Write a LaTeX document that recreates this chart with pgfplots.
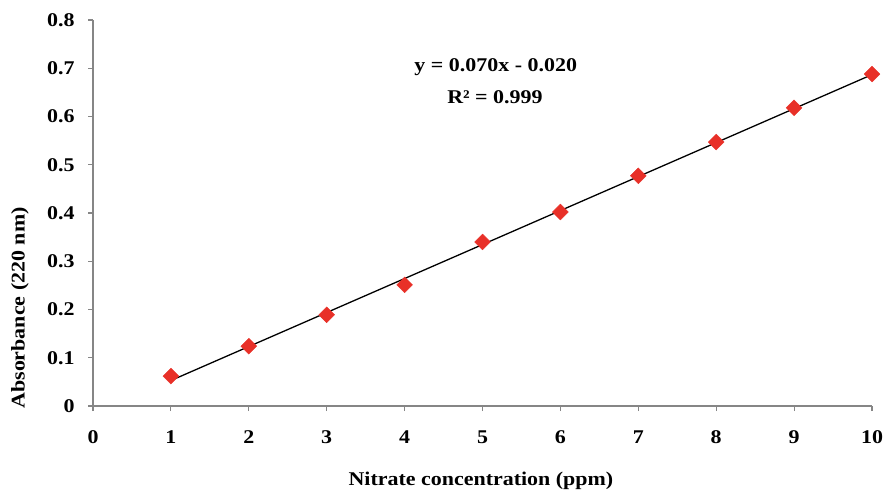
\documentclass[border=0pt]{standalone}
\usepackage{pgfplots}
\pgfplotsset{compat=1.18}
\usepackage{fontspec}
\setmainfont{Liberation Serif}[FakeStretch=1.13]
\definecolor{mkred}{RGB}{232,48,40}
\definecolor{axgray}{RGB}{134,134,134}
\begin{document}
\begin{tikzpicture}[x=1bp,y=1bp]
\begin{axis}[
  at={(0,0)}, anchor=south west,
  scale only axis,
  width=779bp, height=386bp,
  xmin=0, xmax=10, ymin=0, ymax=0.8,
  xtick={0,1,...,10},
  ytick={0,0.1,...,0.8},
  yticklabel style={/pgf/number format/fixed,/pgf/number format/precision=1},
  axis x line*=bottom, axis y line*=left,
  axis line style={axgray, line width=1.2bp, -},
  tick style={axgray, line width=1.2bp},
  tick align=outside,
  major tick length=5bp,
  /pgf/number format/assume math mode=true,
  ticklabel style={font=\fontsize{19.5}{21}\selectfont\bfseries},
  xticklabel style={yshift=-16bp},
  yticklabel style={xshift=-10bp},
  xlabel={Nitrate concentration (ppm)},
  ylabel={Absorbance (220 nm)},
  label style={font=\fontsize{19.5}{21}\selectfont\bfseries},
  xlabel style={at={(rel axis cs:0.498,0)}, anchor=center, yshift=-75bp},
  ylabel style={at={(axis description cs:-0.0937,0.254)}, anchor=center},
  clip=false,
]
\addplot[black, line width=1.3bp] coordinates {(1,0.0528) (10,0.6868)};
\addplot[only marks, mark=square*, mark size=5.6bp, mark options={rotate=45, fill=mkred, draw=mkred}] coordinates {
(1,0.062) (2,0.124) (3,0.189) (4,0.251) (5,0.340)
(6,0.402) (7,0.477) (8,0.547) (9,0.618) (10,0.688)};
\node[font=\fontsize{19.5}{21}\selectfont\bfseries] at (axis cs:5.17,0.7026) {y = 0.070x - 0.020};
\node[font=\fontsize{19.5}{21}\selectfont\bfseries] at (axis cs:5.16,0.640) {R² = 0.999};
\end{axis}
\pgfresetboundingbox
\path[use as bounding box] (-93bp,-84bp) rectangle (791bp,406bp);
\end{tikzpicture}
\end{document}
